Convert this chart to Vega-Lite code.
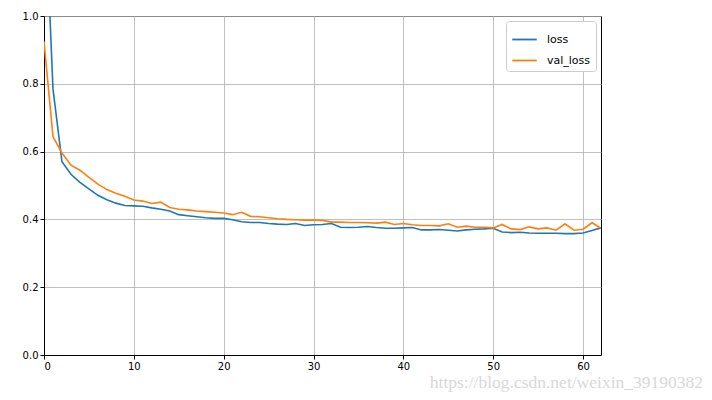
{
  "$schema": "https://vega.github.io/schema/vega-lite/v6.json",
  "autosize": {"type": "none"},
  "padding": {"left": 44, "top": 16, "right": 111, "bottom": 45},
  "width": 557,
  "height": 339,
  "background": "white",
  "title": {
    "text": "https://blog.csdn.net/weixin_39190382",
    "orient": "bottom",
    "anchor": "end",
    "dx": 102,
    "offset": 3,
    "font": "Liberation Sans Narrow",
    "fontSize": 17.5,
    "fontWeight": "normal",
    "color": "#d8d8d8"
  },
  "config": {
    "view": {"stroke": "#000000", "strokeWidth": 1},
    "axis": {
      "labelFont": "DejaVu Sans",
      "labelFontSize": 10,
      "labelColor": "#000000",
      "tickColor": "#000000",
      "tickSize": 4,
      "domainColor": "#000000",
      "gridColor": "#b0b0b0",
      "gridWidth": 0.8,
      "labelPadding": 2,
      "title": null
    }
  },
  "data": {
    "values": [
      {"epoch": 0, "loss": 1.42, "val_loss": 0.925},
      {"epoch": 1, "loss": 0.785, "val_loss": 0.644},
      {"epoch": 2, "loss": 0.570, "val_loss": 0.596},
      {"epoch": 3, "loss": 0.533, "val_loss": 0.560},
      {"epoch": 4, "loss": 0.509, "val_loss": 0.545},
      {"epoch": 5, "loss": 0.490, "val_loss": 0.524},
      {"epoch": 6, "loss": 0.471, "val_loss": 0.504},
      {"epoch": 7, "loss": 0.458, "val_loss": 0.488},
      {"epoch": 8, "loss": 0.448, "val_loss": 0.477},
      {"epoch": 9, "loss": 0.441, "val_loss": 0.468},
      {"epoch": 10, "loss": 0.440, "val_loss": 0.457},
      {"epoch": 11, "loss": 0.439, "val_loss": 0.454},
      {"epoch": 12, "loss": 0.434, "val_loss": 0.447},
      {"epoch": 13, "loss": 0.430, "val_loss": 0.451},
      {"epoch": 14, "loss": 0.425, "val_loss": 0.435},
      {"epoch": 15, "loss": 0.414, "val_loss": 0.430},
      {"epoch": 16, "loss": 0.411, "val_loss": 0.428},
      {"epoch": 17, "loss": 0.408, "val_loss": 0.425},
      {"epoch": 18, "loss": 0.405, "val_loss": 0.423},
      {"epoch": 19, "loss": 0.403, "val_loss": 0.421},
      {"epoch": 20, "loss": 0.403, "val_loss": 0.419},
      {"epoch": 21, "loss": 0.399, "val_loss": 0.414},
      {"epoch": 22, "loss": 0.393, "val_loss": 0.421},
      {"epoch": 23, "loss": 0.391, "val_loss": 0.409},
      {"epoch": 24, "loss": 0.391, "val_loss": 0.408},
      {"epoch": 25, "loss": 0.388, "val_loss": 0.405},
      {"epoch": 26, "loss": 0.386, "val_loss": 0.402},
      {"epoch": 27, "loss": 0.385, "val_loss": 0.400},
      {"epoch": 28, "loss": 0.388, "val_loss": 0.399},
      {"epoch": 29, "loss": 0.382, "val_loss": 0.398},
      {"epoch": 30, "loss": 0.384, "val_loss": 0.398},
      {"epoch": 31, "loss": 0.385, "val_loss": 0.397},
      {"epoch": 32, "loss": 0.388, "val_loss": 0.392},
      {"epoch": 33, "loss": 0.377, "val_loss": 0.392},
      {"epoch": 34, "loss": 0.376, "val_loss": 0.391},
      {"epoch": 35, "loss": 0.377, "val_loss": 0.391},
      {"epoch": 36, "loss": 0.379, "val_loss": 0.390},
      {"epoch": 37, "loss": 0.376, "val_loss": 0.389},
      {"epoch": 38, "loss": 0.374, "val_loss": 0.392},
      {"epoch": 39, "loss": 0.374, "val_loss": 0.385},
      {"epoch": 40, "loss": 0.375, "val_loss": 0.388},
      {"epoch": 41, "loss": 0.376, "val_loss": 0.384},
      {"epoch": 42, "loss": 0.369, "val_loss": 0.382},
      {"epoch": 43, "loss": 0.369, "val_loss": 0.382},
      {"epoch": 44, "loss": 0.370, "val_loss": 0.381},
      {"epoch": 45, "loss": 0.368, "val_loss": 0.387},
      {"epoch": 46, "loss": 0.366, "val_loss": 0.377},
      {"epoch": 47, "loss": 0.369, "val_loss": 0.380},
      {"epoch": 48, "loss": 0.371, "val_loss": 0.377},
      {"epoch": 49, "loss": 0.372, "val_loss": 0.377},
      {"epoch": 50, "loss": 0.374, "val_loss": 0.375},
      {"epoch": 51, "loss": 0.363, "val_loss": 0.385},
      {"epoch": 52, "loss": 0.361, "val_loss": 0.372},
      {"epoch": 53, "loss": 0.362, "val_loss": 0.370},
      {"epoch": 54, "loss": 0.360, "val_loss": 0.378},
      {"epoch": 55, "loss": 0.359, "val_loss": 0.372},
      {"epoch": 56, "loss": 0.359, "val_loss": 0.375},
      {"epoch": 57, "loss": 0.359, "val_loss": 0.368},
      {"epoch": 58, "loss": 0.358, "val_loss": 0.387},
      {"epoch": 59, "loss": 0.358, "val_loss": 0.368},
      {"epoch": 60, "loss": 0.360, "val_loss": 0.371},
      {"epoch": 61, "loss": 0.367, "val_loss": 0.390},
      {"epoch": 62, "loss": 0.375, "val_loss": 0.374}
    ]
  },
  "transform": [{"fold": ["loss", "val_loss"], "as": ["series", "value"]}],
  "mark": {"type": "line", "clip": true, "strokeWidth": 1.6},
  "encoding": {
    "x": {
      "field": "epoch",
      "type": "quantitative",
      "scale": {"domain": [0, 62], "nice": false, "zero": false},
      "axis": {"values": [0, 10, 20, 30, 40, 50, 60], "format": "d"}
    },
    "y": {
      "field": "value",
      "type": "quantitative",
      "scale": {"domain": [0, 1], "nice": false},
      "axis": {"values": [0, 0.2, 0.4, 0.6, 0.8, 1.0], "format": ".1f"}
    },
    "color": {
      "field": "series",
      "type": "nominal",
      "scale": {"domain": ["loss", "val_loss"], "range": ["#1f77b4", "#ff7f0e"]},
      "legend": {
        "title": null,
        "orient": "top-right",
        "offset": 5,
        "symbolType": "stroke",
        "symbolSize": 600,
        "symbolStrokeWidth": 1.8,
        "labelFont": "DejaVu Sans",
        "labelFontSize": 11,
        "labelColor": "#000000",
        "labelOffset": 9,
        "rowPadding": 2,
        "padding": 5,
        "strokeColor": "#cccccc",
        "fillColor": "#ffffff",
        "cornerRadius": 3
      }
    }
  }
}
